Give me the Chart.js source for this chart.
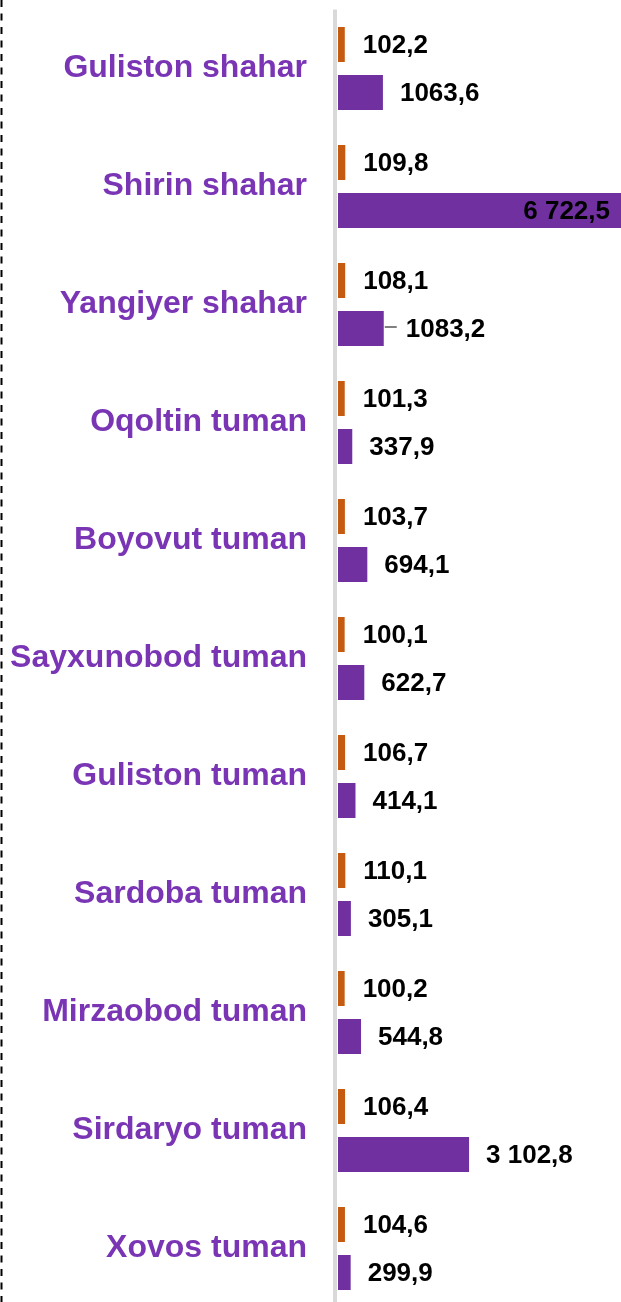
<!DOCTYPE html>
<html lang="uz">
<head>
    <meta charset="UTF-8">
    <title>Tumanlar</title>
    <script src="https://cdn.jsdelivr.net/npm/chart.js"></script>
    <style>
        html, body { margin: 0; padding: 0; background: #fff; overflow: hidden; }
        #grafik { position: absolute; left: 0; top: 0; }
    </style>
</head>
<body>
    <canvas id="grafik" width="621" height="1310"></canvas>

<script>
    // ma'lumotlar
    const hududlar = ['Guliston shahar', 'Shirin shahar', 'Yangiyer shahar', 'Oqoltin tuman', 'Boyovut tuman',
        'Sayxunobod tuman', 'Guliston tuman', 'Sardoba tuman', 'Mirzaobod tuman', 'Sirdaryo tuman', 'Xovos tuman'];
    const osish = [102.2, 109.8, 108.1, 101.3, 103.7, 100.1, 106.7, 110.1, 100.2, 106.4, 104.6];
    const hajm = [1063.6, 6722.5, 1083.2, 337.9, 694.1, 622.7, 414.1, 305.1, 544.8, 3102.8, 299.9];
    const osishYozuv = ['102,2', '109,8', '108,1', '101,3', '103,7', '100,1', '106,7', '110,1', '100,2', '106,4', '104,6'];
    const hajmYozuv = ['1063,6', '6 722,5', '1083,2', '337,9', '694,1', '622,7', '414,1', '305,1', '544,8', '3 102,8', '299,9'];

    const binafsha = '#7030A0';
    const qizgish = '#C55A11';

    // kulrang o'q chizig'i
    const oqChiziq = {
        id: 'oqChiziq',
        beforeDatasetsDraw(chart) {
            const a = chart.chartArea;
            const ctx = chart.ctx;
            ctx.save();
            ctx.fillStyle = '#d9d9d9';
            ctx.fillRect(a.left - 5, a.top, 4, chart.height - a.top);
            ctx.restore();
        }
    };

    // qiymat yozuvlari va chap tomondagi punktir chiziq
    const yozuvlar = {
        id: 'yozuvlar',
        afterDatasetsDraw(chart) {
            const ctx = chart.ctx;
            ctx.save();
            ctx.font = 'bold 26px "Liberation Sans", Arial, sans-serif';
            ctx.fillStyle = '#000';
            ctx.textBaseline = 'middle';

            chart.getDatasetMeta(0).data.forEach((bar, i) => {
                ctx.textAlign = 'left';
                ctx.fillText(osishYozuv[i], bar.x + 18, bar.y + 1);
            });

            chart.getDatasetMeta(1).data.forEach((bar, i) => {
                if (bar.x > chart.chartArea.right - 60) {
                    ctx.textAlign = 'right';
                    ctx.fillText(hajmYozuv[i], chart.chartArea.right - 11, bar.y + 1);
                } else if (i === 2) {
                    // ko'rsatkich chiziq
                    ctx.strokeStyle = '#000';
                    ctx.lineWidth = 1;
                    ctx.beginPath();
                    ctx.moveTo(bar.x + 1, bar.y - 1.5);
                    ctx.lineTo(bar.x + 13, bar.y - 1.5);
                    ctx.stroke();
                    ctx.textAlign = 'left';
                    ctx.fillText(hajmYozuv[i], bar.x + 22, bar.y + 1);
                } else {
                    ctx.textAlign = 'left';
                    ctx.fillText(hajmYozuv[i], bar.x + 17, bar.y + 1);
                }
            });

            ctx.strokeStyle = '#000';
            ctx.lineWidth = 2;
            ctx.setLineDash([7, 6.5]);
            ctx.beginPath();
            ctx.moveTo(1.5, 0);
            ctx.lineTo(1.5, chart.height);
            ctx.stroke();
            ctx.restore();
        }
    };

    const ctx = document.getElementById('grafik').getContext('2d');
    const grafik = new Chart(ctx, {
        type: 'bar',
        data: {
            labels: hududlar,
            datasets: [{
                data: osish,
                xAxisID: 'x2',
                backgroundColor: qizgish,
                barPercentage: 0.73,
                categoryPercentage: 0.814
            }, {
                data: hajm,
                xAxisID: 'x',
                backgroundColor: binafsha,
                barPercentage: 0.73,
                categoryPercentage: 0.814
            }]
        },
        options: {
            indexAxis: 'y',
            responsive: false,
            animation: false,
            layout: {
                padding: { top: 9.5, bottom: 2.5, left: 0, right: 0 }
            },
            plugins: {
                legend: { display: false },
                tooltip: { enabled: false }
            },
            scales: {
                x: {
                    display: false,
                    min: 0,
                    max: 6700
                },
                x2: {
                    display: false,
                    position: 'top',
                    min: 0,
                    max: 4260
                },
                y: {
                    afterFit: function (scale) {
                        scale.width = 338;
                        scale.paddingTop = 0;
                        scale.paddingBottom = 0;
                    },
                    grid: { display: false, drawTicks: false },
                    border: { display: false },
                    ticks: {
                        color: '#7a35b5',
                        padding: 31,
                        font: {
                            family: '"Liberation Sans", Arial, sans-serif',
                            size: 32,
                            weight: 'bold'
                        }
                    }
                }
            }
        },
        plugins: [oqChiziq, yozuvlar]
    });
</script>
</body>
</html>
